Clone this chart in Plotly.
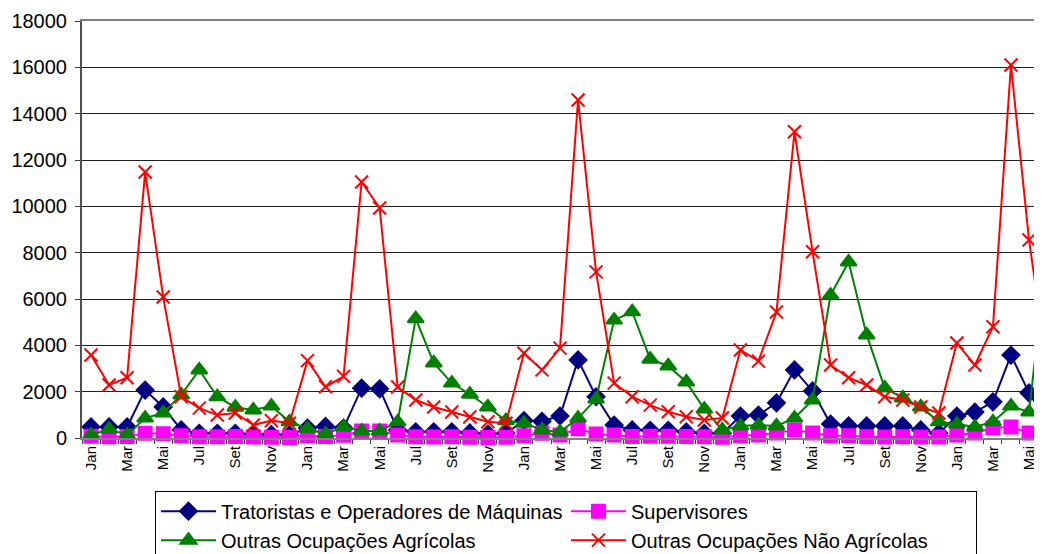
import plotly.graph_objects as go

months = ["Jan", "Fev", "Mar", "Abr", "Mai", "Jun", "Jul", "Ago", "Set", "Out", "Nov", "Dez"]

tratoristas = [480, 480, 480, 2070, 1340, 350, 200, 200, 200, 150, 150, 130,
               430, 500, 430, 2150, 2120, 350, 270, 270, 270, 220, 170, 200,
               750, 720, 950, 3370, 1780, 560, 350, 330, 330, 260, 200, 200,
               950, 990, 1520, 2940, 2030, 600, 520, 520, 520, 520, 350, 200,
               950, 1120, 1560, 3580, 1950, 700]

supervisores = [80, 50, 60, 200, 180, 100, 50, 50, 60, 40, 30, 20,
                100, 60, 120, 300, 300, 130, 50, 40, 50, 30, 20, 30,
                100, 200, 130, 400, 170, 130, 60, 80, 80, 70, 50, 30,
                100, 130, 220, 350, 220, 100, 100, 50, 40, 50, 40, 40,
                130, 220, 430, 480, 220, 100]

agricolas = [130, 380, 130, 860, 1080, 1860, 2940, 1780, 1330, 1210, 1380, 700,
             400, 180, 480, 300, 300, 700, 5150, 3240, 2370, 1890, 1340, 750,
             640, 350, 260, 860, 1680, 5090, 5450, 3400, 3110, 2420, 1250, 350,
             520, 560, 520, 860, 1640, 6170, 7600, 4450, 2160, 1730, 1340, 700,
             600, 480, 700, 1380, 1120, 8000]

nao_agricolas = [3580, 2290, 2600, 11480, 6090, 1780, 1290, 990, 1080, 560, 750, 640,
                 3340, 2210, 2660, 11050, 9930, 2200, 1640, 1340, 1120, 910, 700, 640,
                 3660, 2940, 3880, 14590, 7170, 2370, 1780, 1420, 1130, 920, 780, 860,
                 3800, 3320, 5440, 13220, 8040, 3150, 2600, 2290, 1780, 1640, 1340, 1080,
                 4100, 3150, 4800, 16100, 8550, 3100]

n = len(tratoristas)
x = list(range(n))
labels = [months[i % 12] for i in x]

series = [
    ("Tratoristas e Operadores de Máquinas", tratoristas, "#000080", "diamond", 13),
    ("Supervisores", supervisores, "#FF00FF", "square", 13),
    ("Outras Ocupações Agrícolas", agricolas, "#008000", "triangle-up", 14),
    ("Outras Ocupações Não Agrícolas", nao_agricolas, "#FF0000", "x-thin-open", 13),
]

fig = go.Figure()
for name, vals, color, sym, size in series:
    fig.add_trace(go.Scatter(
        x=x, y=vals, name=name, mode="lines+markers",
        line=dict(color=color, width=2),
        marker=dict(symbol=sym, size=size, color=color,
                    line=dict(color=color, width=2)),
        cliponaxis=False,
    ))

# page body has an 8px default margin, so the figure is offset by 8px
fig.update_layout(
    width=1034, height=546,
    margin=dict(l=74, r=0, t=13, b=116),
    paper_bgcolor="white", plot_bgcolor="white",
    font=dict(family="Liberation Sans, Arial, sans-serif", color="black"),
    showlegend=True,
    legend=dict(
        orientation="h", xref="paper", x=0.076, xanchor="left",
        yref="container", y=0.116, yanchor="top",
        bordercolor="black", borderwidth=1,
        font=dict(size=20), itemwidth=55,
        entrywidth=340, entrywidthmode="pixels",
        traceorder="normal",
    ),
)

fig.update_xaxes(
    range=[-0.5, 52.72],
    tickvals=x[::2], ticktext=labels[::2],
    tickangle=-90, tickfont=dict(size=15),
    showgrid=False, zeroline=False, automargin=False,
    showline=True, linecolor="#808080", linewidth=2, mirror=True,
    ticks="",
    minor=dict(dtick=1, tick0=-0.5, ticks="outside", ticklen=4,
               tickcolor="#404040", showgrid=False),
)
fig.update_yaxes(
    range=[0, 18000], dtick=2000, tickformat="d",
    tickfont=dict(size=20), automargin=False, ticklabelstandoff=4,
    showgrid=True, gridcolor="#202020", gridwidth=1,
    zeroline=False,
    showline=True, linecolor="#505050", linewidth=2,
    ticks="outside", ticklen=5, tickcolor="#404040",
)

fig.write_html("out.html")
